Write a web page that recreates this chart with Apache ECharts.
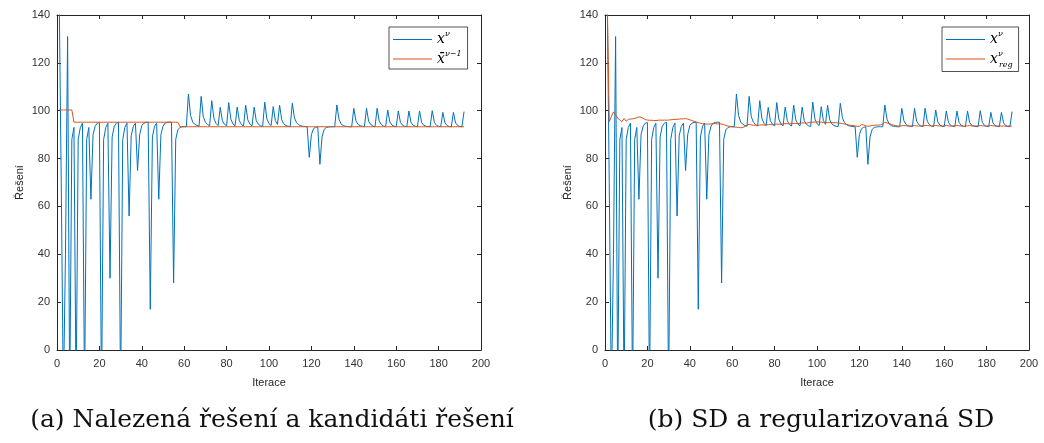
<!DOCTYPE html>
<html><head><meta charset="utf-8">
<script src="https://cdn.jsdelivr.net/npm/echarts@6/dist/echarts.min.js"></script>
<style>html,body{margin:0;padding:0;background:#fff}#c{width:1044px;height:443px}</style>
</head><body><div id="c"></div>
<script>
// ---- data ----
const xTickLabels = [0, 20, 40, 60, 80, 100, 120, 140, 160, 180, 200];
const yTickLabels = [0, 20, 40, 60, 80, 100, 120, 140];

// x^nu : found solutions (iterations 1..192)
const solution = [
  150, 70, -20, 40, 131, -20, 88, 93, -20, 88,
  93, 94.8, -20, 88, 93, 63, 90, 93.5, 94.8, 95.1,
  -20, 88, 93, 94.8, 30, 89, 93.5, 94.8, 95.1, -20,
  88, 93, 94.8, 56, 89.5, 93.5, 94.8, 75, 90, 93.8,
  94.8, 95.1, 95.2, 17, 89, 93.5, 94.8, 63, 90, 93.5,
  94.8, 95.1, 95.2, 95.2, 28, 88, 92, 93, 93.3, 93.3,
  93.3, 107, 98, 95.3, 94.3, 93.8, 93.5, 106, 97.5, 95.2,
  94.2, 93.7, 104.2, 96.8, 94.7, 93.8, 101.4, 95.8, 94.3, 93.7,
  103.4, 96.5, 94.5, 93.7, 101.5, 95.8, 94.2, 93.6, 102.3, 96.2,
  94.4, 93.7, 101.5, 95.8, 94.3, 93.7, 93.4, 103.6, 96.6, 94.6,
  93.8, 101.7, 95.9, 94.3, 102.3, 96.2, 94.5, 93.8, 93.5, 93.4,
  103.1, 97, 95, 94.1, 93.7, 93.5, 93.4, 93.3, 80.5, 90,
  92.5, 93.1, 93.3, 77.6, 89, 92.2, 93, 93.2, 93.3, 93.3,
  93.3, 102.4, 96.5, 94.5, 93.8, 93.5, 93.4, 93.3, 93.3, 101.0,
  95.8, 94.3, 93.7, 93.5, 93.3, 101.0, 95.6, 94.2, 93.6, 93.3,
  101.0, 95.6, 94.2, 93.6, 93.3, 100.3, 95.3, 94.0, 93.5, 93.3,
  99.9, 95.1, 93.9, 93.5, 93.3, 99.9, 95.1, 93.9, 93.5, 93.3,
  99.9, 95.1, 93.9, 93.5, 93.4, 93.3, 100.0, 95.1, 93.9, 93.5,
  93.3, 99.3, 94.9, 93.8, 93.4, 93.3, 99.3, 94.9, 93.8, 93.4,
  93.3, 99.6
];

// xbar^(nu-1) : candidate solutions
const candidate = [
  100.3, 100.3, 100.3, 100.3, 100.3, 100.3, 100.3, 95.2, 95.2, 95.2,
  95.2, 95.2, 95.2, 95.2, 95.2, 95.2, 95.2, 95.2, 95.2, 95.2,
  95.2, 95.2, 95.2, 95.2, 95.2, 95.2, 95.2, 95.2, 95.2, 95.2,
  95.2, 95.2, 95.2, 95.2, 95.2, 95.2, 95.2, 95.2, 95.2, 95.2,
  95.2, 95.2, 95.2, 95.2, 95.2, 95.2, 95.2, 95.2, 95.2, 95.2,
  95.2, 95.2, 95.2, 95.2, 95.2, 95.2, 95.2, 93.3, 93.3, 93.3,
  93.3, 93.3, 93.3, 93.3, 93.3, 93.3, 93.3, 93.3, 93.3, 93.3,
  93.3, 93.3, 93.3, 93.3, 93.3, 93.3, 93.3, 93.3, 93.3, 93.3,
  93.3, 93.3, 93.3, 93.3, 93.3, 93.3, 93.3, 93.3, 93.3, 93.3,
  93.3, 93.3, 93.3, 93.3, 93.3, 93.3, 93.3, 93.3, 93.3, 93.3,
  93.3, 93.3, 93.3, 93.3, 93.3, 93.3, 93.3, 93.3, 93.3, 93.3,
  93.3, 93.3, 93.3, 93.3, 93.3, 93.3, 93.3, 93.3, 93.3, 93.3,
  93.3, 93.3, 93.3, 93.3, 93.3, 93.3, 93.3, 93.3, 93.3, 93.3,
  93.3, 93.3, 93.3, 93.3, 93.3, 93.3, 93.3, 93.3, 93.3, 93.3,
  93.3, 93.3, 93.3, 93.3, 93.3, 93.3, 93.3, 93.3, 93.3, 93.3,
  93.3, 93.3, 93.3, 93.3, 93.3, 93.3, 93.3, 93.3, 93.3, 93.3,
  93.3, 93.3, 93.3, 93.3, 93.3, 93.3, 93.3, 93.3, 93.3, 93.3,
  93.3, 93.3, 93.3, 93.3, 93.3, 93.3, 93.3, 93.3, 93.3, 93.3,
  93.3, 93.3, 93.3, 93.3, 93.3, 93.3, 93.3, 93.3, 93.3, 93.3,
  93.3, 93.3
];

// x_reg^nu : regularized SD
const regularized = [
  150, 95.4, 97.5, 99.5, 98.3, 96.8, 96.2, 95.4, 96.8, 95.6,
  96.4, 96.5, 96.6, 96.8, 97.0, 97.4, 97.3, 96.8, 96.3, 96.1,
  96.0, 96.0, 95.9, 95.9, 96.0, 96.1, 96.0, 96.1, 96.0, 96.1,
  96.2, 96.3, 96.4, 96.4, 96.5, 96.6, 96.6, 96.7, 96.5, 96.2,
  95.9, 95.6, 95.3, 95.0, 94.8, 94.6, 94.5, 94.4, 94.4, 94.5,
  94.6, 94.6, 94.5, 94.5, 94.4, 94.2, 93.9, 93.6, 93.4, 93.3,
  93.2, 93.1, 93.0, 92.9, 93.0, 93.4, 94.0, 94.3, 94.1, 93.9,
  93.9, 93.8, 94.0, 94.1, 94.0, 94.0, 94.2, 94.2, 94.1, 94.3,
  94.4, 94.4, 94.3, 94.5, 94.6, 94.6, 94.5, 94.6, 94.7, 94.7,
  94.6, 94.8, 94.9, 94.9, 94.8, 95.0, 95.1, 95.2, 95.3, 95.3,
  95.3, 95.2, 95.1, 95.1, 95.0, 95.1, 95.0, 95.0, 95.0, 94.8,
  94.8, 94.6, 94.4, 94.3, 94.0, 93.9, 93.8, 93.6, 93.5, 93.5,
  94.2, 94.1, 93.7, 93.5, 93.6, 93.8, 93.9, 94.0, 94.0, 94.1,
  94.4, 95.2, 94.9, 94.6, 94.3, 94.0, 93.8, 93.6, 93.6, 93.7,
  93.8, 93.7, 93.6, 93.6, 93.7, 93.8, 93.7, 93.6, 93.6, 93.7,
  93.9, 93.8, 93.7, 93.6, 93.7, 93.8, 93.7, 93.6, 93.6, 93.7,
  93.8, 93.7, 93.6, 93.6, 93.7, 93.8, 93.7, 93.6, 93.5, 93.6,
  93.7, 93.8, 93.7, 93.6, 93.6, 93.7, 93.8, 93.7, 93.6, 93.6,
  93.7, 93.8, 93.7, 93.6, 93.6, 93.7, 93.6, 93.6, 93.5, 93.6,
  93.6, 93.6
];

const seriesNames = { sol: 'x', cand: 'xbar', reg: 'xreg' };
const captions = ['(a) Nalezená řešení a kandidáti řešení', '(b) SD a regularizovaná SD'];
const axisTitles = { x: 'Iterace', y: 'Řešení' };

// ---- chart ----
const BLUE = '#0072BD', ORANGE = '#D95319', AX = '#262626';
const toPts = arr => arr.map((v, i) => [i + 1, v]);
const grids = [{ left: 57, top: 15, width: 424, height: 335 }, { left: 605, top: 15, width: 424, height: 335 }];

const xMin = xTickLabels[0], xMax = xTickLabels[xTickLabels.length - 1], xInt = xTickLabels[1] - xTickLabels[0];
const yMin = yTickLabels[0], yMax = yTickLabels[yTickLabels.length - 1], yInt = yTickLabels[1] - yTickLabels[0];

const lineAx = { show: true, onZero: false, lineStyle: { color: AX, width: 1 } };
const tickAx = { show: true, inside: true, length: 4, lineStyle: { color: AX, width: 1 } };
const lab = { color: '#333', fontSize: 11, fontFamily: 'Liberation Sans, Arial, sans-serif' };

const xAxes = [], yAxes = [];
grids.forEach((g, gi) => {
  xAxes.push({ gridIndex: gi, type: 'value', min: xMin, max: xMax, interval: xInt, position: 'bottom',
    axisLine: lineAx, axisTick: tickAx, splitLine: { show: false },
    axisLabel: Object.assign({ margin: 8 }, lab),
    name: axisTitles.x, nameLocation: 'middle', nameGap: 27,
    nameTextStyle: { color: AX, fontSize: 11, fontFamily: 'Liberation Sans, Arial, sans-serif' } });
  xAxes.push({ gridIndex: gi, type: 'value', min: xMin, max: xMax, interval: xInt, position: 'top',
    axisLine: lineAx, axisTick: tickAx, splitLine: { show: false }, axisLabel: { show: false } });
  yAxes.push({ gridIndex: gi, type: 'value', min: yMin, max: yMax, interval: yInt, position: 'left',
    axisLine: lineAx, axisTick: tickAx, splitLine: { show: false },
    axisLabel: Object.assign({ margin: 7 }, lab),
    name: axisTitles.y, nameLocation: 'middle', nameGap: 32,
    nameTextStyle: { color: AX, fontSize: 11, fontFamily: 'Liberation Sans, Arial, sans-serif' } });
  yAxes.push({ gridIndex: gi, type: 'value', min: yMin, max: yMax, interval: yInt, position: 'right',
    axisLine: lineAx, axisTick: tickAx, splitLine: { show: false }, axisLabel: { show: false } });
});

const mkLine = (name, data, color, gi) => ({
  name, type: 'line', data: toPts(data), xAxisIndex: gi * 2, yAxisIndex: gi * 2,
  symbol: 'none', clip: true, lineStyle: { color, width: 1 }, itemStyle: { color }, animation: false
});

const serif = 'DejaVu Serif, serif';
const rich = {
  v: { fontFamily: serif, fontStyle: 'italic', fontSize: 14, lineHeight: 19, verticalAlign: 'middle', color: '#000' },
  p: { fontFamily: serif, fontStyle: 'italic', fontSize: 8, lineHeight: 10, verticalAlign: 'top', color: '#000' },
  q: { fontFamily: serif, fontStyle: 'italic', fontSize: 8, lineHeight: 10, verticalAlign: 'top', color: '#000', width: 1, align: 'left' },
  b: { fontFamily: serif, fontStyle: 'italic', fontSize: 8, lineHeight: 9, verticalAlign: 'bottom', color: '#000' }
};
const fmtMap = { x: '{v|x}{p|ν}', xbar: '{v|x̄}{p|ν−1}', xreg: '{v|x}{q|ν}{b|reg}' };
const mkLegend = (left, names) => ({
  left, top: 27, orient: 'vertical', data: names, icon: 'rect', itemWidth: 39, itemHeight: 1.2,
  itemGap: 3, padding: [3, 6, 3, 4], borderColor: AX, borderWidth: 0.8, backgroundColor: '#fff',
  selectedMode: false, formatter: n => fmtMap[n], textStyle: { rich }
});

const chart = echarts.init(document.getElementById('c'));
chart.setOption({
  animation: false,
  backgroundColor: '#fff',
  grid: grids,
  xAxis: xAxes,
  yAxis: yAxes,
  legend: [mkLegend(389, [seriesNames.sol, seriesNames.cand]), mkLegend(942, [seriesNames.sol, seriesNames.reg])],
  series: [
    mkLine(seriesNames.sol, solution, BLUE, 0),
    mkLine(seriesNames.cand, candidate, ORANGE, 0),
    mkLine(seriesNames.sol, solution, BLUE, 1),
    mkLine(seriesNames.reg, regularized, ORANGE, 1)
  ],
  graphic: [
    { type: 'text', x: 272, y: 420, style: { text: captions[0], fill: '#111', font: '25px "DejaVu Serif"', textAlign: 'center', textVerticalAlign: 'middle' } },
    { type: 'text', x: 821, y: 420, style: { text: captions[1], fill: '#111', font: '25px "DejaVu Serif"', textAlign: 'center', textVerticalAlign: 'middle' } }
  ]
});
</script>
</body></html>
